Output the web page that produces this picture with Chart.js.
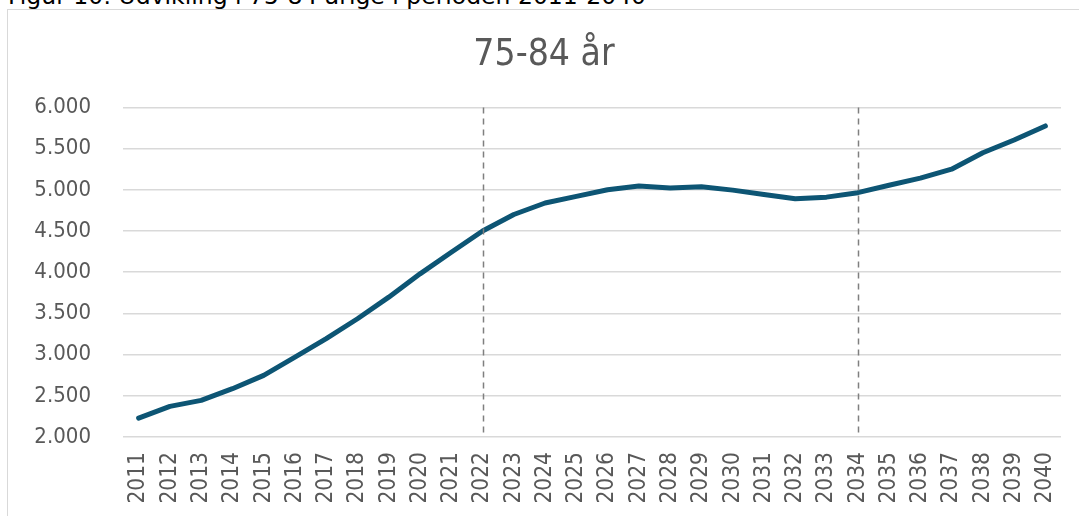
<!DOCTYPE html>
<html>
<head>
<meta charset="utf-8">
<script src="https://cdn.jsdelivr.net/npm/chart.js@4/dist/chart.umd.min.js"></script>
<style>
    html, body { margin: 0; padding: 0; background: #fff; overflow: hidden; }
    #wrap { position: relative; width: 1079px; height: 516px; }
    #caption {
        position: absolute; left: 8px; top: -17px; white-space: nowrap;
        font: 23.5px/27.4px "DejaVu Sans", sans-serif; color: #000;
    }
    #frame {
        position: absolute; left: 7px; top: 9px; width: 1200px; height: 600px;
        border-left: 1.5px solid #d9d9d9; border-top: 1.5px solid #d9d9d9;
    }
    canvas { position: absolute; left: 0; top: 0; }
</style>
</head>
<body>
<div id="wrap">
    <div id="caption">Figur 10: Udvikling i 75-84 årige i perioden 2011-2040</div>
    <div id="frame"></div>
    <canvas id="chart" width="1079" height="516"></canvas>
</div>
<script>
const years = ["2011", "2012", "2013", "2014", "2015", "2016", "2017", "2018", "2019", "2020",
    "2021", "2022", "2023", "2024", "2025", "2026", "2027", "2028", "2029", "2030",
    "2031", "2032", "2033", "2034", "2035", "2036", "2037", "2038", "2039", "2040"];
const persons = [2230, 2372, 2445, 2586, 2748, 2970, 3193, 3435, 3697, 3980,
    4242, 4500, 4700, 4840, 4920, 5000, 5045, 5022, 5036, 4996,
    4944, 4891, 4911, 4965, 5055, 5142, 5250, 5450, 5605, 5775];
const markerYears = ["2022", "2034"];

const font = "'DejaVu Sans Condensed', 'DejaVu Sans', sans-serif";

// dashed vertical lines at the marker years
const markerLines = {
    id: "markerLines",
    afterDatasetsDraw(chart) {
        let ctx = chart.ctx;
        let area = chart.chartArea;
        let x = chart.scales.x;
        ctx.save();
        ctx.strokeStyle = "#7f7f7f";
        ctx.lineWidth = 1.5;
        ctx.setLineDash([6, 5]);
        markerYears.forEach(year => {
            let px = Math.round(x.getPixelForValue(years.indexOf(year))) + 0.5;
            ctx.beginPath();
            ctx.moveTo(px, area.top);
            ctx.lineTo(px, area.bottom);
            ctx.stroke();
        });
        ctx.restore();
    }
};

new Chart(document.getElementById("chart"), {
    type: "line",
    data: {
        labels: years,
        datasets: [{
            data: persons,
            borderColor: "#0d5574",
            borderWidth: 5,
            pointRadius: 0,
            tension: 0,
            borderCapStyle: "round",
            borderJoinStyle: "round"
        }]
    },
    options: {
        responsive: false,
        animation: false,
        layout: { padding: { left: 9, right: 0, top: 0, bottom: 0 } },
        plugins: {
            legend: { display: false },
            tooltip: { enabled: false },
            title: {
                display: true,
                text: "75-84 år",
                color: "#595959",
                font: { family: font, size: 37, weight: "normal" },
                padding: { top: 33, bottom: 30 }
            }
        },
        scales: {
            x: {
                offset: true,
                grid: { display: false, drawTicks: false },
                border: { display: false },
                ticks: {
                    color: "#595959",
                    font: { family: font, size: 22.5 },
                    minRotation: 90,
                    maxRotation: 90,
                    autoSkip: false,
                    padding: 15
                },
                afterFit: scale => {
                    scale.height = 79;
                    scale.paddingLeft = 0;
                    scale.paddingRight = 18;
                }
            },
            y: {
                min: 2000,
                max: 6000,
                grid: { color: "#d9d9d9", lineWidth: 1.5, drawTicks: false },
                border: { display: false },
                ticks: {
                    stepSize: 500,
                    color: "#595959",
                    font: { family: font, size: 22 },
                    padding: 32,
                    callback: v => v.toLocaleString("da-DK", { minimumFractionDigits: 0 }).replace(",", ".")
                },
                afterFit: scale => { scale.width = 114; }
            }
        }
    },
    plugins: [markerLines]
});
</script>
</body>
</html>
